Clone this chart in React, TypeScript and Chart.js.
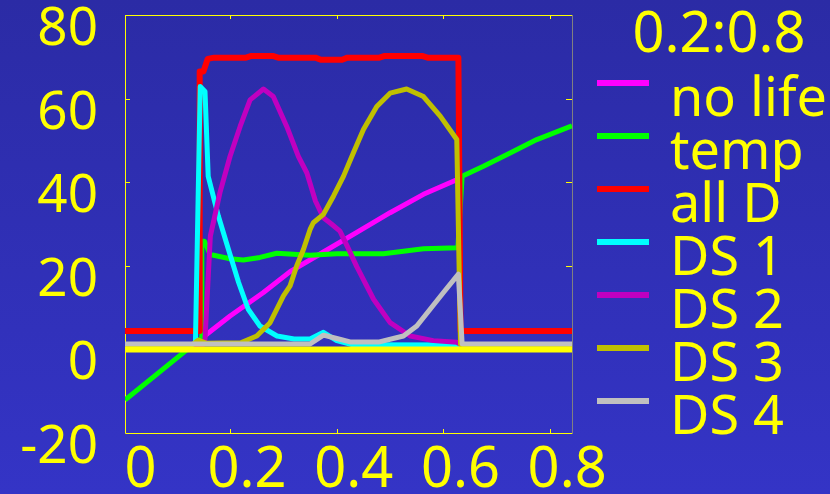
import React, { useEffect, useRef } from "react";
import { Chart, registerables } from "chart.js";

Chart.register(...registerables);

// ---- data ----
const xTicks = [0, 0.2, 0.4, 0.6, 0.8];
const yTicks = [-20, 0, 20, 40, 60, 80];
const legendTitle = "0.2:0.8";
const seriesLabels = ["no life", "temp", "all D", "DS 1", "DS 2", "DS 3", "DS 4"];
const seriesColors = ["#FF00FF", "#00FF00", "#FF0000", "#00FFFF", "#C000C0", "#C0C000", "#C0C0C0"];

const noLife: [number, number][] = [
  [0.137, 1.7], [0.2, 8.0], [0.2625, 13.6], [0.3125, 18.6], [0.375, 23.3],
  [0.4375, 28.0], [0.5, 32.7], [0.5625, 37.1], [0.625, 40.6],
];
const temp: [number, number][] = [
  [0.003, -12.1], [0.12, 0], [0.146, 2.6], [0.147, 25.9], [0.152, 25.9],
  [0.1625, 22.7], [0.2, 21.7], [0.225, 21.4], [0.256, 22.0], [0.2875, 23.0],
  [0.35, 22.5], [0.4, 22.9], [0.4875, 22.9], [0.5625, 24.1], [0.627, 24.3],
  [0.635, 41.4], [0.675, 43.8], [0.725, 47.0], [0.775, 50.2], [0.841, 53.5],
];
const allD: [number, number][] = [
  [0.003, 4.4], [0.142, 4.4], [0.143, 66.5], [0.15, 66.5], [0.158, 69.5],
  [0.17, 69.8], [0.23, 69.8], [0.24, 70.2], [0.28, 70.2], [0.29, 69.8],
  [0.36, 69.8], [0.37, 69.3], [0.41, 69.3], [0.42, 69.8], [0.48, 69.8],
  [0.49, 70.2], [0.56, 70.2], [0.57, 69.8], [0.628, 69.8], [0.632, 4.4],
  [0.841, 4.4],
];
const ds1: [number, number][] = [
  [0.003, 1.2], [0.135, 1.2], [0.144, 62.9], [0.153, 61.7], [0.159, 41.4],
  [0.178, 31.9], [0.197, 23.9], [0.216, 16.0], [0.234, 9.6], [0.256, 5.6],
  [0.288, 3.2], [0.32, 2.5], [0.35, 2.5], [0.375, 4.1], [0.4, 2.1],
  [0.43, 1.1], [0.841, 1.0],
];
const ds2: [number, number][] = [
  [0.003, 1.2], [0.15, 1.2], [0.153, 2.5], [0.163, 27.1], [0.181, 37.5],
  [0.2, 46.2], [0.219, 53.4], [0.2375, 59.7], [0.2625, 62.3], [0.281, 60.5],
  [0.306, 53.4], [0.328, 46.2], [0.344, 42.2], [0.36, 35.5], [0.375, 31.5],
  [0.39, 30.0], [0.406, 28.3], [0.42, 24.6], [0.4375, 19.8], [0.469, 12.0],
  [0.5, 6.4], [0.5375, 3.2], [0.581, 2.1], [0.625, 1.7], [0.632, 1.2],
  [0.841, 1.2],
];
const ds3: [number, number][] = [
  [0.003, 1.2], [0.13, 1.2], [0.14, 2.2], [0.155, 1.5], [0.22, 1.6],
  [0.25, 3.2], [0.275, 6.4], [0.3, 12.8], [0.3125, 15.2], [0.325, 20.0],
  [0.3375, 23.9], [0.35, 28.7], [0.356, 30.3], [0.375, 32.3], [0.394, 36.7],
  [0.4125, 41.4], [0.431, 47.0], [0.45, 52.6], [0.475, 58.1], [0.5, 61.3],
  [0.531, 62.3], [0.5625, 60.5], [0.594, 55.8], [0.625, 50.2], [0.632, 1.2],
  [0.841, 1.2],
];
const ds4: [number, number][] = [
  [0.003, 1.3], [0.35, 1.3], [0.375, 3.4], [0.4, 2.6], [0.425, 1.8],
  [0.48, 1.8], [0.525, 3.2], [0.55, 5.6], [0.575, 9.6], [0.6, 13.6],
  [0.628, 18.0], [0.635, 1.3], [0.841, 1.3],
];
const zeroLine: [number, number][] = [[0.003, 0], [0.841, 0]];

const X_MIN = 0.003;
const X_MAX = 0.841;
const Y_MIN = -20;
const Y_MAX = 80;

const FONT = '"Noto Sans", sans-serif';
const YELLOW = "#FFFF00";

const toXY = (arr: [number, number][]) => arr.map(([x, y]) => ({ x, y }));

const backgroundPlugin = {
  id: "bgGradient",
  beforeDraw(chart: any) {
    const { ctx, width, height } = chart;
    const g = ctx.createLinearGradient(0, 0, 0, height);
    g.addColorStop(0, "#2B2BA5");
    g.addColorStop(1, "#3434C6");
    ctx.save();
    ctx.fillStyle = g;
    ctx.fillRect(0, 0, width, height);
    ctx.restore();
  },
};

const framePlugin = {
  id: "frame",
  beforeDatasetsDraw(chart: any) {
    const { ctx, chartArea } = chart;
    const { left, right, top, bottom } = chartArea;
    const xs = chart.scales.x;
    const ys = chart.scales.y;
    ctx.save();
    ctx.lineWidth = 1;
    ctx.strokeStyle = YELLOW;
    ctx.beginPath();
    ctx.moveTo(left + 0.5, top + 0.5);
    ctx.lineTo(right, top + 0.5);
    ctx.moveTo(left + 0.5, top);
    ctx.lineTo(left + 0.5, bottom + 0.5);
    ctx.lineTo(right + 1, bottom + 0.5);
    ctx.stroke();
    // tick marks
    ctx.beginPath();
    xTicks.forEach((v) => {
      const px = Math.round(xs.getPixelForValue(v)) + 0.5;
      if (px <= left + 2 || px >= right - 2) return;
      ctx.moveTo(px, bottom);
      ctx.lineTo(px, bottom - 4);
      ctx.moveTo(px, top);
      ctx.lineTo(px, top + 4);
    });
    yTicks.forEach((v) => {
      const py = Math.round(ys.getPixelForValue(v)) + 0.5;
      if (py <= top + 2 || py >= bottom - 2) return;
      ctx.moveTo(left, py);
      ctx.lineTo(left + 5, py);
      ctx.moveTo(right, py);
      ctx.lineTo(right - 6, py);
    });
    ctx.stroke();
    ctx.strokeStyle = "#808080";
    ctx.beginPath();
    ctx.moveTo(right + 0.5, top);
    ctx.lineTo(right + 0.5, bottom + 1);
    ctx.stroke();
    ctx.restore();
  },
};

const legendPlugin = {
  id: "customLegend",
  afterDraw(chart: any) {
    const { ctx } = chart;
    ctx.save();
    ctx.fillStyle = YELLOW;
    ctx.font = `56px ${FONT}`;
    ctx.textAlign = "center";
    ctx.textBaseline = "alphabetic";
    ctx.fillText(legendTitle, 719, 52);
    ctx.textAlign = "left";
    ctx.font = `54px ${FONT}`;
    let i = 0;
    chart.data.datasets.forEach((ds: any) => {
      if (!ds.label) return;
      const y = 83 + i * 53;
      ctx.strokeStyle = ds.borderColor;
      ctx.lineWidth = 6;
      ctx.beginPath();
      ctx.moveTo(597, y);
      ctx.lineTo(649, y);
      ctx.stroke();
      ctx.fillStyle = YELLOW;
      ctx.fillText(ds.label, 670, y + 33);
      i++;
    });
    ctx.restore();
  },
};

export default function App() {
  const ref = useRef<HTMLCanvasElement | null>(null);

  useEffect(() => {
    if (!ref.current) return;
    const series = [noLife, temp, allD, ds1, ds2, ds3, ds4];
    const datasets: any[] = series.map((s, i) => ({
      label: seriesLabels[i],
      data: toXY(s),
      borderColor: seriesColors[i],
      backgroundColor: seriesColors[i],
      borderWidth: 5,
      pointRadius: 0,
      tension: 0,
      fill: false,
      borderJoinStyle: "round",
      order: -i,
    }));
    datasets[2].borderWidth = 6;
    datasets.push({
      label: "",
      data: toXY(zeroLine),
      borderColor: YELLOW,
      backgroundColor: YELLOW,
      borderWidth: 6,
      pointRadius: 0,
      fill: false,
      order: -10,
    });

    const chart = new Chart(ref.current, {
      type: "line",
      data: { datasets },
      plugins: [backgroundPlugin, framePlugin, legendPlugin],
      options: {
        animation: false,
        responsive: false,
        events: [],
        layout: { padding: { top: 15, right: 258, left: 0, bottom: 0 } },
        plugins: {
          legend: { display: false },
          tooltip: { enabled: false },
          title: { display: false },
        },
        scales: {
          x: {
            type: "linear",
            min: X_MIN,
            max: X_MAX,
            grid: { display: false, drawTicks: false },
            border: { display: false },
            afterBuildTicks: (scale: any) => {
              scale.ticks = xTicks.map((v) => ({ value: v }));
            },
            afterFit: (scale: any) => {
              scale.height = 61;
              scale.paddingLeft = 0;
              scale.paddingRight = 0;
              scale.paddingTop = 0;
              scale.paddingBottom = 0;
            },
            ticks: {
              autoSkip: false,
              maxRotation: 0,
              minRotation: 0,
              padding: 4,
              labelOffset: 17,
              color: YELLOW,
              font: { family: FONT, size: 56 },
              callback: (v: any) => String(v),
            },
          },
          y: {
            type: "linear",
            min: Y_MIN,
            max: Y_MAX,
            grid: { display: false, drawTicks: false },
            border: { display: false },
            afterBuildTicks: (scale: any) => {
              scale.ticks = yTicks.map((v) => ({ value: v }));
            },
            afterFit: (scale: any) => {
              scale.width = 125;
              scale.paddingLeft = 0;
              scale.paddingRight = 0;
              scale.paddingTop = 0;
              scale.paddingBottom = 0;
            },
            ticks: {
              autoSkip: false,
              padding: 27,
              labelOffset: 15,
              color: YELLOW,
              font: { family: FONT, size: 53 },
              callback: (v: any) => String(v),
            },
          },
        },
      } as any,
    });
    return () => chart.destroy();
  }, []);

  return (
    <div style={{ position: "absolute", left: 0, top: 0, width: 830, height: 494 }}>
      <canvas ref={ref} width={830} height={494} style={{ display: "block" }} />
    </div>
  );
}
